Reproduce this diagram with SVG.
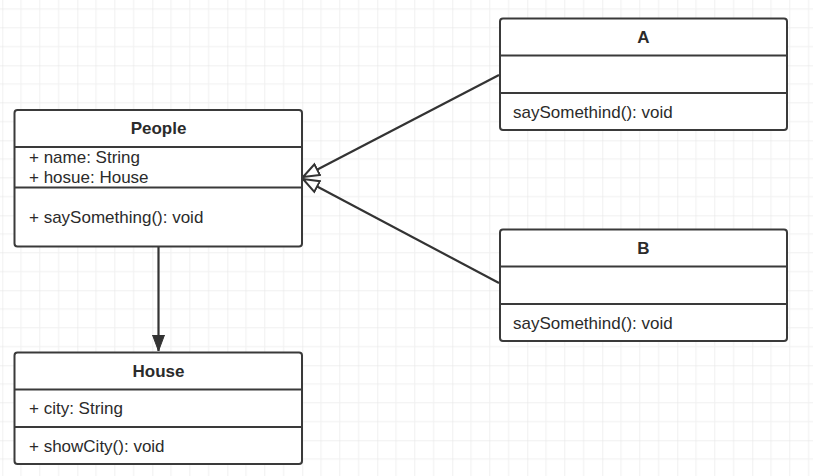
<svg xmlns="http://www.w3.org/2000/svg" width="813" height="476" viewBox="0 0 813 476">
  <defs>
    <pattern id="grid" x="2.3" y="-9.7" width="75" height="75" patternUnits="userSpaceOnUse">
      <path d="M18.75 0V75M37.5 0V75M56.25 0V75M0 18.75H75M0 37.5H75M0 56.25H75" stroke="#f0f0f0" stroke-width="1" fill="none"/>
      <path d="M0 0V75M0 0H75" stroke="#e2e2e2" stroke-width="1" fill="none"/>
    </pattern>
    <marker id="hollow" markerUnits="userSpaceOnUse" markerWidth="20" markerHeight="16" refX="17" refY="7" orient="auto" viewBox="0 0 20 14">
      <path d="M1 1 L17 7 L1 13 Z" fill="#ffffff" stroke="#333333" stroke-width="2"/>
    </marker>
    <marker id="filled" markerUnits="userSpaceOnUse" markerWidth="18" markerHeight="14" refX="16" refY="7" orient="auto" viewBox="0 0 18 14">
      <path d="M0 1 L16 7 L0 13 Z" fill="#333333" stroke="#333333" stroke-width="1"/>
    </marker>
  </defs>
  <style>
    .box { fill: #ffffff; stroke: #3a3a3a; stroke-width: 2; }
    .div { stroke: #3a3a3a; stroke-width: 2; }
    .t { font-family: "Liberation Sans", Arial, sans-serif; font-size: 17px; fill: #2b2b2b; }
    .h { font-weight: bold; text-anchor: middle; }
    .edge { stroke: #333333; stroke-width: 2.2; fill: none; }
  </style>
  <rect x="0" y="0" width="813" height="476" fill="#ffffff"/>
  <rect x="0" y="0" width="813" height="476" fill="url(#grid)"/>

  <g id="connectors">
    <path class="edge" d="M158.5 247 V351" marker-end="url(#filled)"/>
    <path class="edge" d="M499 75 L303 177" marker-end="url(#hollow)"/>
    <path class="edge" d="M499 283 L303 179" marker-end="url(#hollow)"/>
  </g>

  <g id="People">
    <rect class="box" x="14.5" y="110" width="287.5" height="136.5" rx="3"/>
    <line class="div" x1="14.5" y1="147" x2="302" y2="147"/>
    <line class="div" x1="14.5" y1="187.5" x2="302" y2="187.5"/>
    <text class="t h" x="158.5" y="134">People</text>
    <text class="t" x="29" y="163">+ name: String</text>
    <text class="t" x="29" y="183">+ hosue: House</text>
    <text class="t" x="29" y="222.5">+ saySomething(): void</text>
  </g>

  <g id="House">
    <rect class="box" x="14.5" y="352.5" width="287.5" height="111.5" rx="3"/>
    <line class="div" x1="14.5" y1="389.5" x2="302" y2="389.5"/>
    <line class="div" x1="14.5" y1="427" x2="302" y2="427"/>
    <text class="t h" x="158.5" y="377">House</text>
    <text class="t" x="29" y="414">+ city: String</text>
    <text class="t" x="29" y="452">+ showCity(): void</text>
  </g>

  <g id="A">
    <rect class="box" x="500" y="18.5" width="287" height="111.5" rx="3"/>
    <line class="div" x1="500" y1="55.5" x2="787" y2="55.5"/>
    <line class="div" x1="500" y1="93" x2="787" y2="93"/>
    <text class="t h" x="643.5" y="43">A</text>
    <text class="t" x="513" y="118">saySomethind(): void</text>
  </g>

  <g id="B">
    <rect class="box" x="500" y="229.5" width="287" height="111.5" rx="3"/>
    <line class="div" x1="500" y1="266.5" x2="787" y2="266.5"/>
    <line class="div" x1="500" y1="304" x2="787" y2="304"/>
    <text class="t h" x="643.5" y="254">B</text>
    <text class="t" x="513" y="329">saySomethind(): void</text>
  </g>
</svg>
